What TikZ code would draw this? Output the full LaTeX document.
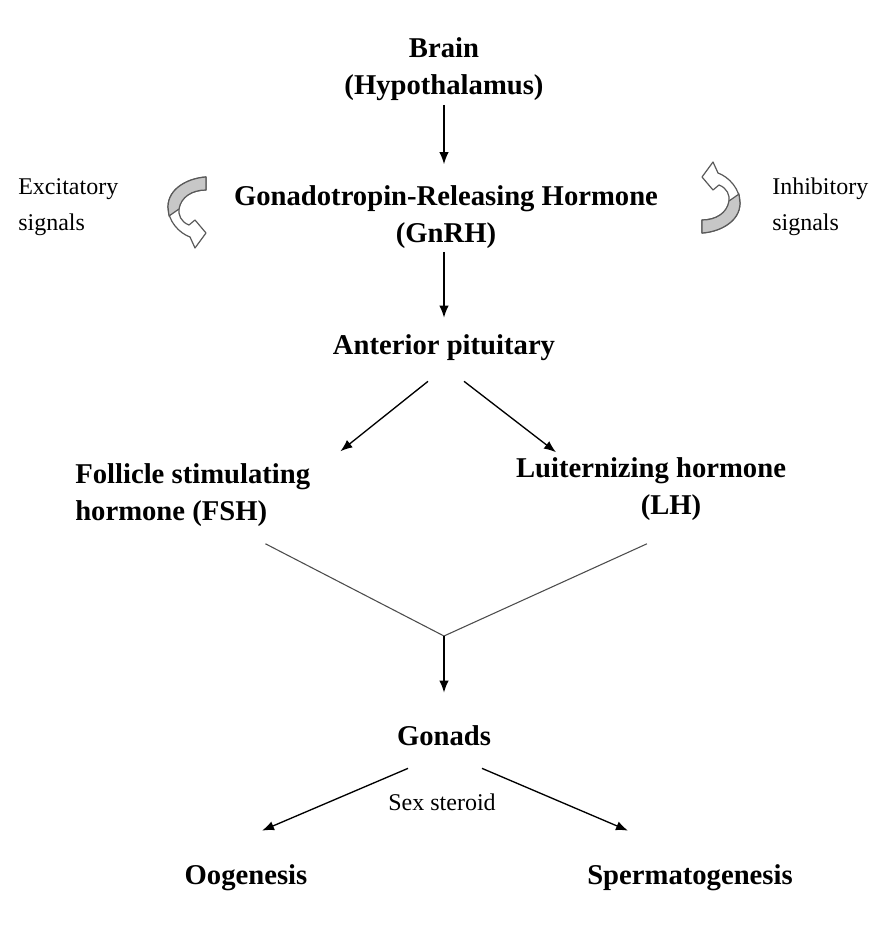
\documentclass[tikz,border=0pt]{standalone}
\usepackage{fontspec}
\setmainfont{Liberation Serif}
\usetikzlibrary{arrows.meta,calc}
\begin{document}
\begin{tikzpicture}[x=0.75pt,y=-0.75pt,
  lbl/.style={font=\fontsize{21.5}{27.75}\selectfont\bfseries, inner sep=0pt, align=center},
  sm/.style={font=\fontsize{18}{27}\selectfont, inner sep=0pt, align=left},
  arr/.style={-{Latex[length=9pt,width=7pt]}, line width=1pt},
  yline/.style={line width=0.8pt, draw=black!70},
  flip/.style={draw=black!65, line width=0.9pt, line join=round}]
\fill[white] (0,0) rectangle (872,935);
% text nodes
\node[lbl] (brain) at (444,69) {Brain\\(Hypothalamus)};
\node[lbl] (gnrh) at (446,217) {Gonadotropin-Releasing Hormone\\(GnRH)};
\node[lbl] (ap) at (444,348) {Anterior pituitary};
\node[lbl, align=left, anchor=west] (fsh) at (75,495) {Follicle stimulating\\hormone (FSH)};
\node[lbl] (lh) at (651,489) {Luiternizing hormone\\\hspace*{30pt}(LH)};
\node[lbl] (gonads) at (444,736) {Gonads};
\node[lbl] (oo) at (246,878) {Oogenesis};
\node[lbl] (sp) at (690,878) {Spermatogenesis};
\node[sm, anchor=west] (exc) at (18,207) {Excitatory\\signals};
\node[sm, anchor=west] (inh) at (772,207) {Inhibitory\\signals};
\node[sm, align=center] (sex) at (442,802) {Sex steroid};
% connectors
\draw[arr] ($(brain.south)+(0,4)$) -- ($(brain.south |- gnrh.north)+(0,-21)$);
\draw[arr] ($(gnrh.south)+(-2,3)$) -- ($(ap.north)+(0,-17)$);
\draw[arr] ($(ap.south)+(-16,20)$) -- ($(fsh.north east)+(30,-12)$);
\draw[arr] ($(ap.south)+(20,20)$) -- ($(lh.north)+(-95,-5)$);
\coordinate (join) at (444,636);
\draw[yline] ($(fsh.south east)+(-45,17)$) -- (join) -- ($(lh.south)+(-4,23)$);
\draw[arr] (join) -- ($(gonads.north)+(0,-33)$);
\draw[arr] ($(gonads.south)+(-36,22)$) -- ($(oo.north)+(16,-34)$);
\draw[arr] ($(gonads.south)+(38,22)$) -- ($(sp.north)+(-62,-34)$);
% curved signal arrows
\begin{scope}[shift={(187,213)}]
  \filldraw[flip, fill=white] (19,-36) .. controls (2,-35) and (-19,-25) .. (-19,-6)
     .. controls (-19,8) and (-8,20) .. (3,24) -- (8,35) -- (19,20) -- (8,7) -- (2,12)
     .. controls (-6,9) and (-9,2) .. (-8,-5) .. controls (-6,-16) and (5,-23) .. (19,-23) -- cycle;
  \filldraw[flip, fill=black!22] (19,-36) .. controls (2,-35) and (-19,-25) .. (-19,-6)
     -- (-18,3) -- (-8,-4) .. controls (-6,-16) and (5,-23) .. (19,-23) -- cycle;
\end{scope}
\begin{scope}[shift={(721,197)}, rotate=180]
  \filldraw[flip, fill=white] (19,-36) .. controls (2,-35) and (-19,-25) .. (-19,-6)
     .. controls (-19,8) and (-8,20) .. (3,24) -- (8,35) -- (19,20) -- (8,7) -- (2,12)
     .. controls (-6,9) and (-9,2) .. (-8,-5) .. controls (-6,-16) and (5,-23) .. (19,-23) -- cycle;
  \filldraw[flip, fill=black!22] (19,-36) .. controls (2,-35) and (-19,-25) .. (-19,-6)
     -- (-18,3) -- (-8,-4) .. controls (-6,-16) and (5,-23) .. (19,-23) -- cycle;
\end{scope}
\end{tikzpicture}
\end{document}
